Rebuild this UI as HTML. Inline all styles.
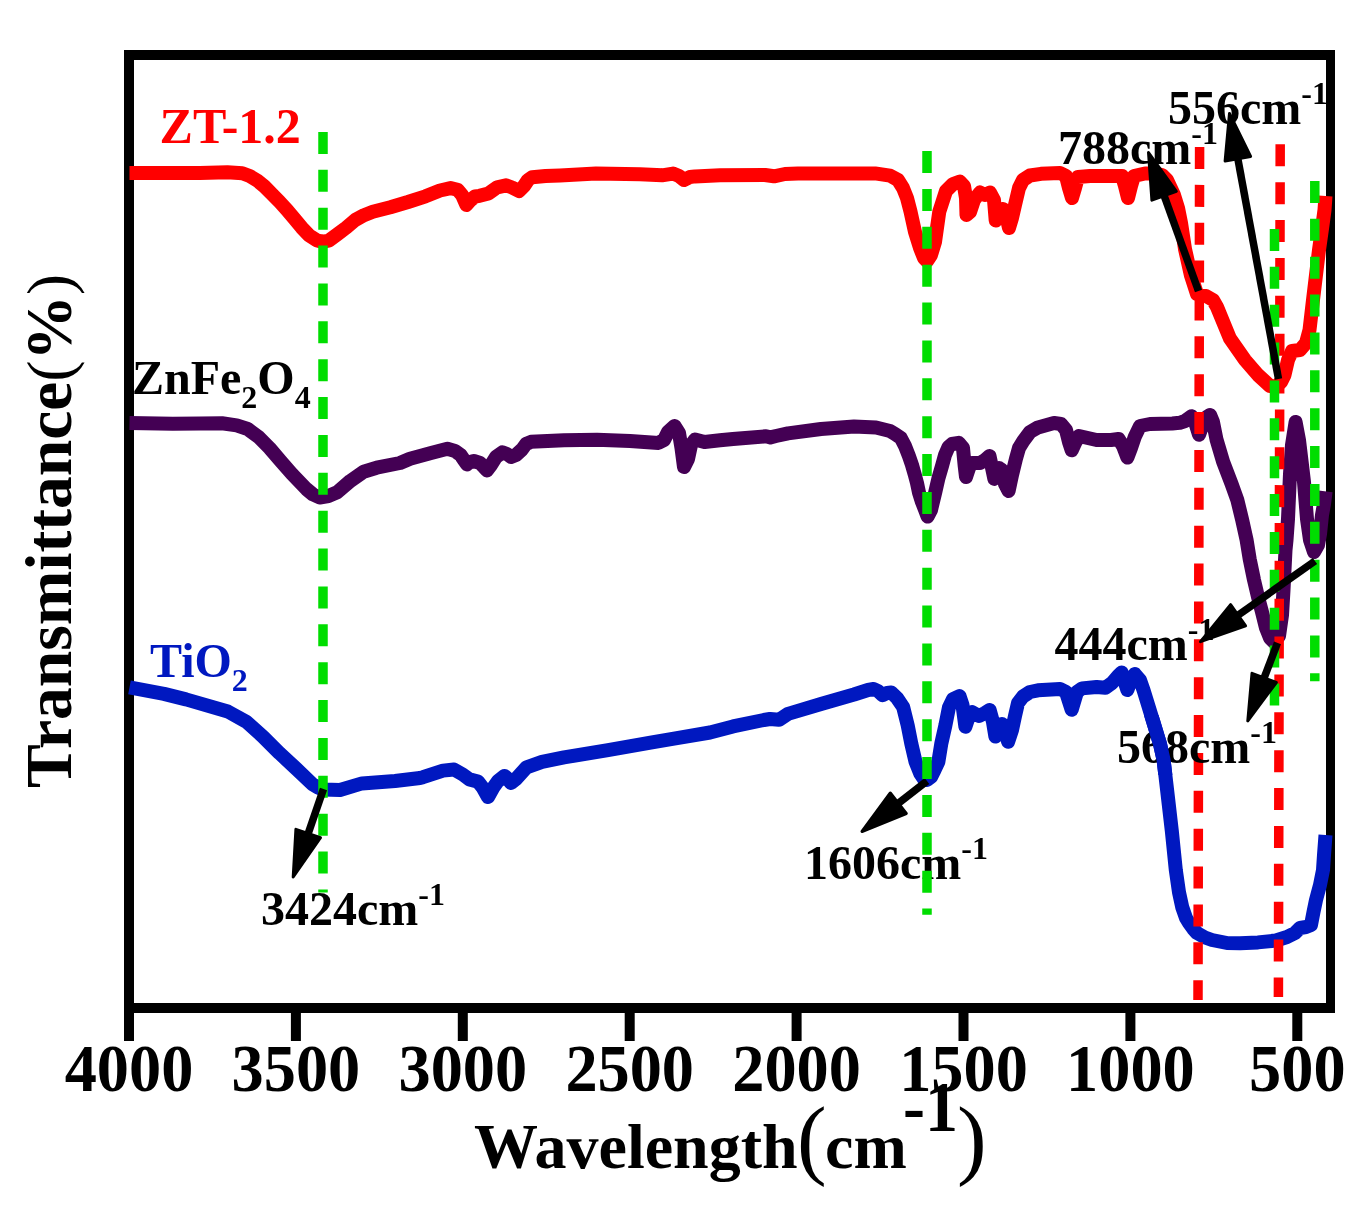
<!DOCTYPE html>
<html><head><meta charset="utf-8"><style>
html,body{margin:0;padding:0;background:#fff;width:1364px;height:1212px;overflow:hidden}
svg{display:block;will-change:transform}
</style></head><body>
<svg width="1364" height="1212" viewBox="0 0 1364 1212">
<rect width="1364" height="1212" fill="#fff"/>
<g fill="#000">
<rect x="124" y="50" width="1211" height="10"/>
<rect x="124" y="1003" width="1211" height="10"/>
<rect x="124" y="50" width="10" height="963"/>
<rect x="1326" y="50" width="9" height="963"/>
<rect x="124.0" y="1005" width="10" height="36"/>
<rect x="290.9" y="1005" width="10" height="36"/>
<rect x="457.8" y="1005" width="10" height="36"/>
<rect x="624.7" y="1005" width="10" height="36"/>
<rect x="791.6" y="1005" width="10" height="36"/>
<rect x="958.5" y="1005" width="10" height="36"/>
<rect x="1125.4" y="1005" width="10" height="36"/>
<rect x="1292.3" y="1005" width="10" height="36"/>
</g>
<polyline points="129.5,173.0 160.0,173.0 200.0,173.0 227.4,172.2 242.3,173.2 249.7,176.0 257.1,180.4 264.5,186.5 272.0,194.1 279.4,201.6 286.8,209.7 294.2,218.6 301.7,227.6 309.1,235.4 316.5,240.2 322.0,241.8 328.8,240.7 337.6,234.1 346.4,227.5 355.2,220.0 364.0,215.2 372.8,211.8 390.4,207.3 408.0,202.0 425.5,196.3 440.0,190.5 450.6,188.1 457.6,189.7 462.0,195.0 466.4,205.0 470.8,200.0 475.0,196.5 479.6,195.8 488.4,193.4 497.2,187.3 506.0,185.3 512.0,187.5 519.0,191.0 524.0,186.0 528.0,180.0 532.3,177.2 545.5,176.0 560.0,175.4 596.0,173.6 640.0,174.2 662.0,175.3 673.0,173.6 679.0,176.0 684.0,180.0 690.0,177.0 695.0,176.4 720.0,175.3 765.0,175.0 774.0,176.3 785.0,174.0 798.0,173.4 875.0,173.4 890.0,175.7 898.0,180.0 903.0,188.0 907.0,198.0 910.5,211.6 915.0,232.0 920.0,248.0 924.0,258.0 927.0,261.0 931.0,255.0 935.0,242.0 939.3,211.6 946.0,191.0 953.0,184.0 959.8,181.6 964.0,186.0 966.0,198.0 966.5,215.0 970.0,212.0 974.0,200.0 980.0,192.5 985.0,195.0 990.0,192.5 994.0,200.0 995.7,220.5 999.0,214.0 1003.0,209.0 1006.0,215.0 1009.0,228.0 1012.0,218.0 1015.0,205.0 1019.0,188.0 1023.0,180.0 1030.0,175.5 1041.0,173.8 1060.0,173.0 1066.0,176.0 1069.0,188.0 1072.0,198.0 1075.0,188.0 1078.0,177.0 1090.0,176.0 1107.0,176.0 1122.0,176.0 1125.0,186.0 1128.0,198.0 1131.0,186.0 1134.0,176.0 1145.0,173.5 1155.0,173.5 1162.0,175.0 1167.0,180.0 1174.0,195.0 1178.0,208.0 1181.0,222.8 1185.0,249.0 1191.0,275.6 1197.0,294.0 1206.0,296.0 1213.0,300.0 1217.0,307.0 1230.0,338.6 1245.0,360.0 1258.0,375.0 1270.0,386.0 1276.0,386.5 1281.0,382.0 1284.5,375.0 1288.0,360.0 1292.0,351.0 1300.0,350.0 1306.0,343.0 1309.5,330.0 1313.0,300.0 1315.4,280.0 1319.0,250.0 1322.5,225.0 1324.5,210.0 1325.5,196.0" fill="none" stroke="#ff0000" stroke-width="14" stroke-linejoin="round" stroke-linecap="butt"/>
<polyline points="129.5,423.0 172.8,423.8 200.0,423.6 222.0,423.3 236.7,425.4 247.7,429.0 258.7,437.1 269.6,448.1 280.6,461.0 292.0,474.0 306.4,489.0 313.0,494.5 319.6,497.5 328.4,496.0 337.2,492.3 350.4,480.9 363.6,471.7 376.7,467.7 400.0,463.0 410.0,458.7 432.0,452.8 447.4,448.8 455.0,451.0 460.6,455.0 464.0,460.0 467.0,464.4 470.0,462.0 473.8,461.0 480.0,463.0 484.0,467.0 487.0,470.4 491.0,465.0 496.0,457.0 502.4,452.3 507.0,454.0 511.0,457.0 516.0,455.0 522.0,449.5 526.0,444.0 531.0,441.8 564.0,440.2 597.0,439.8 630.0,441.0 658.5,442.9 664.0,440.0 668.0,432.0 674.6,426.0 679.0,433.0 681.5,448.0 684.0,467.0 688.0,459.0 691.0,445.0 695.0,439.5 704.5,442.0 720.0,440.3 733.0,439.0 766.0,436.3 770.4,437.4 776.0,436.0 788.0,433.4 821.0,429.0 854.0,426.4 876.0,427.5 884.0,429.5 890.0,431.0 895.0,434.0 900.9,438.1 905.0,446.0 909.0,456.3 912.0,465.0 914.7,474.4 917.0,483.0 919.0,492.6 922.0,502.0 925.4,510.7 927.6,516.6 931.0,510.0 935.3,492.0 938.5,478.0 942.0,466.0 945.0,455.0 948.5,447.0 952.0,444.0 958.8,442.8 963.0,448.0 964.7,466.0 966.0,477.0 969.0,468.0 972.0,463.0 980.0,463.0 985.0,460.0 989.5,456.0 992.5,470.0 994.4,479.0 999.0,468.0 1002.0,470.0 1005.0,484.0 1008.6,491.0 1012.0,475.0 1016.0,458.6 1019.0,448.0 1023.3,441.0 1030.0,432.0 1038.0,427.4 1054.0,423.0 1061.0,424.0 1066.0,430.0 1069.0,442.0 1071.7,450.3 1075.0,443.0 1079.0,436.0 1096.6,440.0 1111.0,440.0 1118.6,439.0 1123.0,446.0 1127.4,457.6 1131.0,448.0 1134.8,436.7 1140.0,426.0 1150.0,424.0 1172.3,423.4 1179.7,422.8 1185.0,421.0 1191.6,416.2 1195.0,422.0 1199.0,434.7 1203.0,424.0 1207.0,417.0 1210.1,415.0 1213.0,422.0 1216.5,439.5 1223.1,461.8 1231.6,484.0 1237.3,499.8 1242.1,519.6 1246.5,539.4 1249.7,559.2 1254.0,580.0 1258.0,597.0 1262.0,612.0 1266.0,628.0 1270.0,638.0 1274.0,642.0 1279.0,636.0 1282.0,615.0 1283.5,590.0 1285.5,550.0 1286.5,540.0 1288.0,519.0 1290.0,474.0 1292.0,445.0 1295.6,422.0 1299.0,440.0 1302.0,465.0 1304.0,482.0 1307.0,519.0 1310.0,540.0 1314.0,552.0 1318.0,545.0 1320.0,534.0 1322.0,515.0 1324.0,504.0 1325.6,491.3" fill="none" stroke="#440054" stroke-width="14" stroke-linejoin="round" stroke-linecap="butt"/>
<polyline points="129.5,687.3 164.0,693.9 186.0,699.4 227.8,711.5 246.5,721.9 263.0,736.7 279.5,753.2 296.0,768.5 312.5,784.2 318.0,787.5 323.0,789.5 340.0,790.0 362.0,783.4 395.0,781.0 420.0,778.0 423.0,777.2 443.0,770.6 454.0,769.5 462.8,774.5 469.4,779.4 478.0,781.6 483.0,788.0 488.0,797.0 493.0,788.0 498.0,781.0 504.6,775.9 508.0,779.0 511.0,783.0 516.0,779.0 526.6,767.3 542.0,761.8 564.0,757.4 608.0,750.1 652.0,742.4 674.0,738.7 710.0,732.5 733.0,726.4 763.8,720.0 770.0,719.0 779.0,719.8 788.0,713.9 821.0,704.0 854.0,694.5 868.0,690.0 873.7,689.0 878.0,691.0 882.5,695.2 887.0,693.0 891.3,692.5 897.0,698.0 903.2,707.2 907.7,725.4 911.3,743.6 915.5,761.7 920.0,773.0 924.0,779.0 927.0,780.0 931.0,777.0 934.5,770.0 938.4,761.7 941.3,743.6 945.4,725.4 949.0,707.2 953.0,699.0 959.5,696.0 962.5,705.0 965.4,726.7 969.0,716.0 972.0,712.0 979.0,716.0 985.0,713.0 989.7,710.0 993.0,722.0 995.4,736.5 999.0,727.0 1002.0,724.0 1005.0,730.0 1008.1,741.7 1012.0,730.0 1015.0,716.0 1018.0,703.0 1023.0,696.5 1030.0,692.0 1038.0,690.3 1060.0,688.9 1066.0,692.0 1071.7,709.8 1077.0,692.0 1082.0,688.4 1096.6,687.0 1105.4,687.7 1112.0,683.0 1118.0,676.0 1121.6,672.5 1127.4,690.0 1131.0,680.0 1134.8,674.0 1140.0,680.0 1143.5,690.0 1152.0,717.6 1160.0,744.0 1163.6,760.0 1167.6,794.4 1171.8,830.7 1175.8,870.0 1179.0,892.3 1182.2,907.1 1186.0,918.0 1189.0,923.0 1193.0,928.5 1197.0,933.0 1205.0,937.5 1212.0,940.0 1227.0,943.0 1240.0,943.2 1258.0,942.4 1276.0,940.5 1287.0,937.0 1295.0,933.0 1300.0,928.0 1306.0,927.0 1311.0,925.0 1313.5,912.0 1316.0,900.0 1320.0,885.0 1323.0,870.0 1324.0,855.0 1325.5,835.0" fill="none" stroke="#0018c0" stroke-width="14" stroke-linejoin="round" stroke-linecap="butt"/>
<line x1="1199.6" y1="147" x2="1198.0" y2="1000" stroke="#ff0000" stroke-width="9.5" stroke-dasharray="22 15.87"/>
<line x1="1280.2" y1="144.3" x2="1278.4" y2="997" stroke="#ff0000" stroke-width="9.5" stroke-dasharray="22 15.87"/>
<line x1="323" y1="132" x2="323" y2="892.6" stroke="#00dd00" stroke-width="9.5" stroke-dasharray="22 15.87"/>
<line x1="1274.5" y1="229" x2="1274.5" y2="706" stroke="#00dd00" stroke-width="9.5" stroke-dasharray="22 15.87"/>
<line x1="1314.8" y1="181" x2="1314.8" y2="681.3" stroke="#00dd00" stroke-width="9.5" stroke-dasharray="22 15.87"/>
<line x1="1198.5" y1="291.0" x2="1162.8" y2="192.0" stroke="#000" stroke-width="7.5" stroke-linecap="butt"/><polygon points="1148.5,152.5 1176.3,191.4 1151.9,200.2" fill="#000" stroke="#000" stroke-width="3" stroke-linejoin="round"/>
<line x1="1278.5" y1="379.0" x2="1237.1" y2="154.8" stroke="#000" stroke-width="7.5" stroke-linecap="butt"/><polygon points="1229.5,113.5 1250.6,156.4 1225.1,161.1" fill="#000" stroke="#000" stroke-width="3" stroke-linejoin="round"/>
<line x1="1315.0" y1="561.0" x2="1234.8" y2="617.5" stroke="#000" stroke-width="7.5" stroke-linecap="butt"/><polygon points="1200.5,641.7 1230.6,604.6 1245.6,625.8" fill="#000" stroke="#000" stroke-width="3" stroke-linejoin="round"/>
<line x1="1277.5" y1="642.8" x2="1262.7" y2="681.6" stroke="#000" stroke-width="7.5" stroke-linecap="butt"/><polygon points="1247.8,720.9 1252.0,673.3 1276.3,682.5" fill="#000" stroke="#000" stroke-width="3" stroke-linejoin="round"/>
<line x1="323.5" y1="789.0" x2="306.9" y2="837.3" stroke="#000" stroke-width="7.5" stroke-linecap="butt"/><polygon points="293.2,877.0 295.9,829.3 320.5,837.7" fill="#000" stroke="#000" stroke-width="3" stroke-linejoin="round"/>
<line x1="927.0" y1="781.0" x2="895.2" y2="805.7" stroke="#000" stroke-width="7.5" stroke-linecap="butt"/><polygon points="862.0,831.5 890.3,793.0 906.3,813.5" fill="#000" stroke="#000" stroke-width="3" stroke-linejoin="round"/>
<text transform="translate(129.0,1091.4) scale(1,1.042)" text-anchor="middle" style="font-family:&quot;Liberation Serif&quot;,serif;font-weight:bold;font-size:64.3px">4000</text>
<text transform="translate(295.9,1091.4) scale(1,1.042)" text-anchor="middle" style="font-family:&quot;Liberation Serif&quot;,serif;font-weight:bold;font-size:64.3px">3500</text>
<text transform="translate(462.8,1091.4) scale(1,1.042)" text-anchor="middle" style="font-family:&quot;Liberation Serif&quot;,serif;font-weight:bold;font-size:64.3px">3000</text>
<text transform="translate(629.7,1091.4) scale(1,1.042)" text-anchor="middle" style="font-family:&quot;Liberation Serif&quot;,serif;font-weight:bold;font-size:64.3px">2500</text>
<text transform="translate(796.6,1091.4) scale(1,1.042)" text-anchor="middle" style="font-family:&quot;Liberation Serif&quot;,serif;font-weight:bold;font-size:64.3px">2000</text>
<text transform="translate(963.5,1091.4) scale(1,1.042)" text-anchor="middle" style="font-family:&quot;Liberation Serif&quot;,serif;font-weight:bold;font-size:64.3px">1500</text>
<text transform="translate(1130.4,1091.4) scale(1,1.042)" text-anchor="middle" style="font-family:&quot;Liberation Serif&quot;,serif;font-weight:bold;font-size:64.3px">1000</text>
<text transform="translate(1297.3,1091.4) scale(1,1.042)" text-anchor="middle" style="font-family:&quot;Liberation Serif&quot;,serif;font-weight:bold;font-size:64.3px">500</text>
<text x="474" y="1168" style="font-family:&quot;Liberation Serif&quot;,serif;font-weight:bold;font-size:64px">Wavelength</text>
<text x="797" y="1168" style="font-family:&quot;Liberation Serif&quot;,serif;font-size:89px">(</text>
<text x="825" y="1168" style="font-family:&quot;Liberation Serif&quot;,serif;font-weight:bold;font-size:64px">cm</text>
<text transform="translate(903,1131) scale(1,1.09)" style="font-family:&quot;Liberation Serif&quot;,serif;font-weight:bold;font-size:66px">-1</text>
<text x="957" y="1168" style="font-family:&quot;Liberation Serif&quot;,serif;font-size:89px">)</text>
<text transform="translate(71,531) rotate(-90)" text-anchor="middle" style="font-family:&quot;Liberation Serif&quot;,serif;font-weight:bold;font-size:65.5px">Transmittance<tspan style="font-weight:normal;font-size:63px">(</tspan>%<tspan style="font-weight:normal;font-size:63px">)</tspan></text>
<text x="159.6" y="142.8" style="font-family:&quot;Liberation Serif&quot;,serif;font-weight:bold;font-size:50px" fill="#ff0000">ZT-1.2</text>
<text x="132" y="394" style="font-family:&quot;Liberation Serif&quot;,serif;font-weight:bold;font-size:48px">ZnFe<tspan dy="14" style="font-size:32px">2</tspan><tspan dy="-14">O</tspan><tspan dy="14" style="font-size:32px">4</tspan></text>
<text x="150" y="677.4" style="font-family:&quot;Liberation Serif&quot;,serif;font-weight:bold;font-size:48px" fill="#0018c0">TiO<tspan dy="14" style="font-size:32px">2</tspan></text>
<text x="1058" y="163.5" style="font-family:&quot;Liberation Serif&quot;,serif;font-weight:bold;font-size:48px" fill="#000">788cm<tspan dy="-20" style="font-size:32px">-1</tspan></text>
<text x="1168" y="124" style="font-family:&quot;Liberation Serif&quot;,serif;font-weight:bold;font-size:48px" fill="#000">556cm<tspan dy="-20" style="font-size:32px">-1</tspan></text>
<text x="1054.5" y="660" style="font-family:&quot;Liberation Serif&quot;,serif;font-weight:bold;font-size:48px" fill="#000">444cm<tspan dy="-20" style="font-size:32px">-1</tspan></text>
<text x="1117" y="762.6" style="font-family:&quot;Liberation Serif&quot;,serif;font-weight:bold;font-size:48px" fill="#000">568cm<tspan dy="-20" style="font-size:32px">-1</tspan></text>
<text x="261" y="924.8" style="font-family:&quot;Liberation Serif&quot;,serif;font-weight:bold;font-size:48px" fill="#000">3424cm<tspan dy="-20" style="font-size:32px">-1</tspan></text>
<text x="804" y="879" style="font-family:&quot;Liberation Serif&quot;,serif;font-weight:bold;font-size:48px" fill="#000">1606cm<tspan dy="-20" style="font-size:32px">-1</tspan></text>
<line x1="927" y1="151" x2="927" y2="914.7" stroke="#00dd00" stroke-width="9.5" stroke-dasharray="22 15.88"/>
<clipPath id="c568"><rect x="1130" y="715" width="60" height="60"/></clipPath>
<polyline clip-path="url(#c568)" points="129.5,687.3 164.0,693.9 186.0,699.4 227.8,711.5 246.5,721.9 263.0,736.7 279.5,753.2 296.0,768.5 312.5,784.2 318.0,787.5 323.0,789.5 340.0,790.0 362.0,783.4 395.0,781.0 420.0,778.0 423.0,777.2 443.0,770.6 454.0,769.5 462.8,774.5 469.4,779.4 478.0,781.6 483.0,788.0 488.0,797.0 493.0,788.0 498.0,781.0 504.6,775.9 508.0,779.0 511.0,783.0 516.0,779.0 526.6,767.3 542.0,761.8 564.0,757.4 608.0,750.1 652.0,742.4 674.0,738.7 710.0,732.5 733.0,726.4 763.8,720.0 770.0,719.0 779.0,719.8 788.0,713.9 821.0,704.0 854.0,694.5 868.0,690.0 873.7,689.0 878.0,691.0 882.5,695.2 887.0,693.0 891.3,692.5 897.0,698.0 903.2,707.2 907.7,725.4 911.3,743.6 915.5,761.7 920.0,773.0 924.0,779.0 927.0,780.0 931.0,777.0 934.5,770.0 938.4,761.7 941.3,743.6 945.4,725.4 949.0,707.2 953.0,699.0 959.5,696.0 962.5,705.0 965.4,726.7 969.0,716.0 972.0,712.0 979.0,716.0 985.0,713.0 989.7,710.0 993.0,722.0 995.4,736.5 999.0,727.0 1002.0,724.0 1005.0,730.0 1008.1,741.7 1012.0,730.0 1015.0,716.0 1018.0,703.0 1023.0,696.5 1030.0,692.0 1038.0,690.3 1060.0,688.9 1066.0,692.0 1071.7,709.8 1077.0,692.0 1082.0,688.4 1096.6,687.0 1105.4,687.7 1112.0,683.0 1118.0,676.0 1121.6,672.5 1127.4,690.0 1131.0,680.0 1134.8,674.0 1140.0,680.0 1143.5,690.0 1152.0,717.6 1160.0,744.0 1163.6,760.0 1167.6,794.4 1171.8,830.7 1175.8,870.0 1179.0,892.3 1182.2,907.1 1186.0,918.0 1189.0,923.0 1193.0,928.5 1197.0,933.0 1205.0,937.5 1212.0,940.0 1227.0,943.0 1240.0,943.2 1258.0,942.4 1276.0,940.5 1287.0,937.0 1295.0,933.0 1300.0,928.0 1306.0,927.0 1311.0,925.0 1313.5,912.0 1316.0,900.0 1320.0,885.0 1323.0,870.0 1324.0,855.0 1325.5,835.0" fill="none" stroke="#0018c0" stroke-width="14" stroke-linejoin="round" stroke-linecap="butt"/>
</svg></body></html>
